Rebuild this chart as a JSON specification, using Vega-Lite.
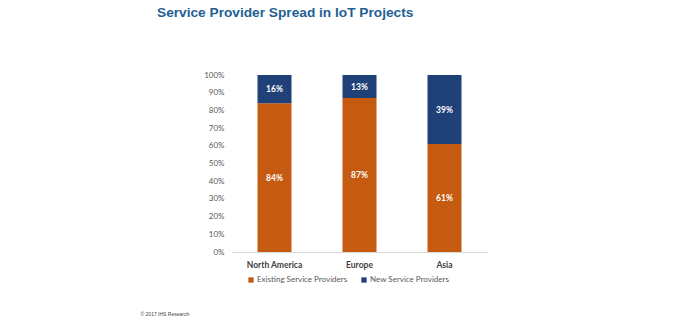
{
  "$schema": "https://vega.github.io/schema/vega-lite/v6.json",
  "autosize": "none",
  "width": 255,
  "height": 177,
  "padding": {"left": 232, "top": 75, "right": 188, "bottom": 69},
  "background": "white",
  "config": {"view": {"stroke": null}},
  "title": {
    "text": "Service Provider Spread in IoT Projects",
    "anchor": "start",
    "frame": "group",
    "dx": -75,
    "offset": 51,
    "font": "Liberation Sans",
    "fontSize": 13.7,
    "fontWeight": "bold",
    "color": "#1f5f94"
  },
  "data": {
    "values": [
      {"region": "North America", "type": "Existing Service Providers", "value": 0.84, "ord": 1},
      {"region": "North America", "type": "New Service Providers", "value": 0.16, "ord": 2},
      {"region": "Europe", "type": "Existing Service Providers", "value": 0.87, "ord": 1},
      {"region": "Europe", "type": "New Service Providers", "value": 0.13, "ord": 2},
      {"region": "Asia", "type": "Existing Service Providers", "value": 0.61, "ord": 1},
      {"region": "Asia", "type": "New Service Providers", "value": 0.39, "ord": 2}
    ]
  },
  "transform": [
    {"stack": "value", "groupby": ["region"], "sort": [{"field": "ord", "order": "ascending"}], "as": ["v0", "v1"]},
    {"calculate": "(datum.v0 + datum.v1) / 2", "as": "mid"}
  ],
  "encoding": {
    "x": {
      "field": "region",
      "type": "nominal",
      "sort": ["North America", "Europe", "Asia"],
      "scale": {"paddingInner": 0.6, "paddingOuter": 0.3},
      "axis": {
        "title": "© 2017 IHS Research",
        "titleX": -92,
        "titleY": 61,
        "titleAlign": "left",
        "titleBaseline": "middle",
        "titleFontSize": 5,
        "titleFontWeight": "normal",
        "titleColor": "#444444",
        "titleFont": "Liberation Sans",
        "labelAngle": 0,
        "labelFont": "Lato",
        "labelFontSize": 8.5,
        "labelFontWeight": "bold",
        "labelColor": "#404040",
        "labelPadding": 8,
        "ticks": false,
        "domainColor": "#d9d9d9",
        "domainWidth": 1
      }
    }
  },
  "layer": [
    {
      "mark": {"type": "bar"},
      "encoding": {
        "y": {
          "field": "v0",
          "type": "quantitative",
          "scale": {"domain": [0, 1]},
          "axis": {
            "title": null,
            "format": ".0%",
            "values": [0, 0.1, 0.2, 0.3, 0.4, 0.5, 0.6, 0.7, 0.8, 0.9, 1],
            "labelOverlap": false,
            "grid": false,
            "domain": false,
            "ticks": false,
            "labelFont": "Lato",
            "labelFontSize": 8,
            "labelColor": "#595959",
            "labelPadding": 8
          }
        },
        "y2": {"field": "v1"},
        "color": {
          "field": "type",
          "type": "nominal",
          "scale": {
            "domain": ["Existing Service Providers", "New Service Providers"],
            "range": ["#c55a11", "#1f4178"]
          },
          "legend": {
            "title": null,
            "orient": "none",
            "direction": "horizontal",
            "legendX": 15,
            "legendY": 201,
            "symbolType": "square",
            "symbolSize": 28,
            "symbolStrokeWidth": 0,
            "labelFont": "Lato",
            "labelFontSize": 8,
            "labelColor": "#595959",
            "columnPadding": 12,
            "labelOffset": 2
          }
        }
      }
    },
    {
      "mark": {"type": "text", "color": "white", "fontWeight": "bold", "fontSize": 8.5, "font": "Lato", "baseline": "middle"},
      "encoding": {
        "y": {
          "field": "mid",
          "type": "quantitative",
          "axis": {
            "title": null,
            "format": ".0%",
            "values": [0, 0.1, 0.2, 0.3, 0.4, 0.5, 0.6, 0.7, 0.8, 0.9, 1],
            "labelOverlap": false,
            "grid": false,
            "domain": false,
            "ticks": false,
            "labelFont": "Lato",
            "labelFontSize": 8,
            "labelColor": "#595959",
            "labelPadding": 8
          }
        },
        "text": {"field": "value", "type": "quantitative", "format": ".0%"}
      }
    }
  ]
}
